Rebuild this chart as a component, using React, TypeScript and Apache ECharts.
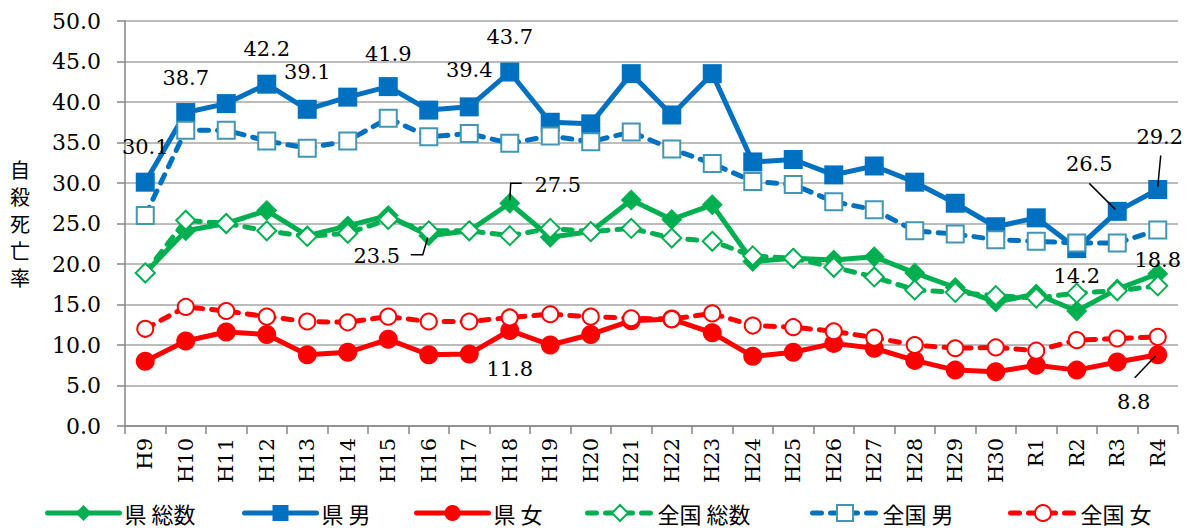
import React, { useEffect, useRef } from "react";
import * as echarts from "echarts";

const categories = [
  "H9", "H10", "H11", "H12", "H13", "H14", "H15", "H16", "H17", "H18", "H19", "H20", "H21",
  "H22", "H23", "H24", "H25", "H26", "H27", "H28", "H29", "H30", "R1", "R2", "R3", "R4",
];

// 県 総数
const kenTotal = [18.9, 24.1, 25.0, 26.6, 23.5, 24.7, 26.0, 23.5, 24.1, 27.5, 23.3, 24.0, 27.9, 25.5, 27.3, 20.3, 20.7, 20.5, 20.9, 18.9, 17.1, 15.3, 16.3, 14.2, 16.9, 18.8];
// 県 男
const kenMale = [30.1, 38.7, 39.8, 42.2, 39.1, 40.6, 41.9, 39.0, 39.4, 43.7, 37.5, 37.3, 43.5, 38.4, 43.5, 32.6, 32.9, 31.0, 32.1, 30.1, 27.5, 24.6, 25.7, 21.9, 26.5, 29.2];
// 県 女
const kenFemale = [8.0, 10.5, 11.6, 11.3, 8.8, 9.1, 10.7, 8.8, 8.9, 11.8, 10.0, 11.3, 13.0, 13.2, 11.5, 8.6, 9.1, 10.2, 9.6, 8.1, 6.9, 6.7, 7.5, 6.9, 7.9, 8.8];
// 全国 総数
const zenTotal = [18.9, 25.4, 25.0, 24.1, 23.4, 23.8, 25.5, 24.1, 24.1, 23.5, 24.4, 24.0, 24.4, 23.2, 22.8, 21.0, 20.7, 19.6, 18.4, 16.8, 16.5, 16.1, 15.8, 16.4, 16.7, 17.3];
// 全国 男
const zenMale = [26.0, 36.5, 36.5, 35.2, 34.3, 35.2, 38.0, 35.7, 36.1, 34.9, 35.8, 35.1, 36.3, 34.2, 32.4, 30.2, 29.8, 27.7, 26.7, 24.1, 23.7, 23.0, 22.8, 22.6, 22.6, 24.2];
// 全国 女
const zenFemale = [12.0, 14.7, 14.2, 13.5, 12.9, 12.8, 13.5, 12.9, 12.9, 13.4, 13.8, 13.5, 13.3, 13.2, 13.9, 12.4, 12.2, 11.7, 10.9, 10.0, 9.6, 9.7, 9.3, 10.6, 10.8, 11.0];

const seriesNames = ["県 総数", "県 男", "県 女", "全国 総数", "全国 男", "全国 女"];

const yTicks = { min: 0, max: 50, interval: 5 };

const dataByKey: Record<string, number[]> = { kenTotal, kenMale, kenFemale };

// label placement (pixel offsets from point)
const labelSpots: { key: string; i: number; dx: number; dy: number }[] = [
  { key: "kenMale", i: 0, dx: 0, dy: -35 },
  { key: "kenMale", i: 1, dx: 0, dy: -35 },
  { key: "kenMale", i: 3, dx: 0, dy: -35 },
  { key: "kenMale", i: 4, dx: 0, dy: -37 },
  { key: "kenMale", i: 6, dx: 0, dy: -33 },
  { key: "kenMale", i: 8, dx: 0, dy: -37 },
  { key: "kenMale", i: 9, dx: 0, dy: -35 },
  { key: "kenMale", i: 24, dx: -28, dy: -47 },
  { key: "kenMale", i: 25, dx: 2, dy: -52 },
  { key: "kenTotal", i: 7, dx: -52, dy: 20 },
  { key: "kenTotal", i: 9, dx: 48, dy: -18 },
  { key: "kenTotal", i: 23, dx: 0, dy: -35 },
  { key: "kenTotal", i: 25, dx: 0, dy: -14 },
  { key: "kenFemale", i: 9, dx: 0, dy: 39 },
  { key: "kenFemale", i: 25, dx: -24, dy: 47 },
];

// leader lines (pixel offsets from point)
const leaders: { key: string; i: number; pts: number[][] }[] = [
  { key: "kenMale", i: 24, pts: [[-28, -28], [-2, -2]] },
  { key: "kenMale", i: 25, pts: [[3, -34], [0, -3]] },
  { key: "kenTotal", i: 7, pts: [[-18, 19], [-6, 19], [-1, 2]] },
  { key: "kenTotal", i: 9, pts: [[0, -3], [1, -20], [12, -20]] },
  { key: "kenFemale", i: 25, pts: [[-23, 23], [-2, 1]] },
];

// legend item placement
const legendLefts = [45, 242, 414, 585, 810, 1008];
const legendIconWidths = [72, 72, 72, 65, 65, 65];

const SERIF = '"DejaVu Serif", "Noto Sans CJK JP", serif';
const CJK = '"Noto Sans CJK JP", sans-serif';
const GREEN = "#00B050";
const BLUE = "#0070C0";
const RED = "#FF0000";
const TEAL = "#4296B4";

function withLabels(key: string, arr: number[]) {
  return arr.map((v, i) => {
    const s = labelSpots.find((l) => l.key === key && l.i === i);
    if (!s) return v;
    return {
      value: v,
      label: {
        show: true,
        position: "inside",
        offset: [s.dx, s.dy],
        color: "#000",
        fontSize: 21,
        fontFamily: SERIF,
      },
    };
  });
}

export default function App() {
  const ref = useRef<HTMLDivElement>(null);

  useEffect(() => {
    document.body.style.margin = "0";
    const chart = echarts.init(ref.current!, null, { renderer: "svg" });
    const dash = [9, 9];
    const option: any = {
      animation: false,
      textStyle: { fontFamily: SERIF },
      grid: { left: 125, right: 23, top: 21, bottom: 106 },
      legend: seriesNames.map((n, k) => ({
        data: [n],
        left: legendLefts[k],
        top: 499,
        padding: 0,
        itemWidth: legendIconWidths[k],
        itemHeight: 20,
        lineStyle: { width: 5, cap: "round" },
        textStyle: { fontSize: 22, lineHeight: 28, color: "#000", fontFamily: CJK },
      })),
      xAxis: {
        type: "category",
        data: categories,
        boundaryGap: true,
        axisLine: { lineStyle: { color: "#868686", width: 1.5 } },
        axisTick: { show: true, length: 8, interval: 0, lineStyle: { color: "#868686", width: 1.5 } },
        axisLabel: { interval: 0, rotate: 90, fontSize: 21, color: "#000", margin: 12, fontFamily: SERIF },
      },
      yAxis: {
        type: "value",
        min: yTicks.min,
        max: yTicks.max,
        interval: yTicks.interval,
        name: "自\n殺\n死\n亡\n率",
        nameLocation: "middle",
        nameRotate: 0,
        nameGap: 95,
        nameTextStyle: { fontSize: 20, lineHeight: 27, color: "#000", fontFamily: CJK },
        axisLine: { show: true, lineStyle: { color: "#868686", width: 1.5 } },
        axisTick: { show: true, length: 8, lineStyle: { color: "#868686", width: 1.5 } },
        axisLabel: { fontSize: 22, color: "#000", margin: 24, fontFamily: SERIF, formatter: (v: number) => v.toFixed(1) },
        splitLine: { lineStyle: { color: "#A6A6A6", width: 1.5 } },
      },
      series: [
        {
          name: seriesNames[0], type: "line", data: withLabels("kenTotal", kenTotal),
          symbol: "diamond", symbolSize: 21,
          itemStyle: { color: GREEN },
          lineStyle: { color: GREEN, width: 5 },
        },
        {
          name: seriesNames[1], type: "line", data: withLabels("kenMale", kenMale),
          symbol: "rect", symbolSize: 19,
          itemStyle: { color: BLUE },
          lineStyle: { color: BLUE, width: 5 },
        },
        {
          name: seriesNames[2], type: "line", data: withLabels("kenFemale", kenFemale),
          symbol: "circle", symbolSize: 19,
          itemStyle: { color: RED },
          lineStyle: { color: RED, width: 5 },
        },
        {
          name: seriesNames[3], type: "line", data: zenTotal,
          symbol: "diamond", symbolSize: 19,
          itemStyle: { color: "#fff", borderColor: GREEN, borderWidth: 2 },
          lineStyle: { color: GREEN, width: 5, type: dash, cap: "round" },
        },
        {
          name: seriesNames[4], type: "line", data: zenMale,
          symbol: "rect", symbolSize: 17,
          itemStyle: { color: "#fff", borderColor: TEAL, borderWidth: 2 },
          lineStyle: { color: BLUE, width: 5, type: dash, cap: "round" },
        },
        {
          name: seriesNames[5], type: "line", data: zenFemale,
          symbol: "circle", symbolSize: 16,
          itemStyle: { color: "#fff", borderColor: RED, borderWidth: 2 },
          lineStyle: { color: RED, width: 5, type: dash, cap: "round" },
        },
        {
          name: "leaders", type: "custom", silent: true, z: 10,
          data: leaders.map((l) => [l.i, dataByKey[l.key][l.i]]),
          renderItem: (params: any, api: any) => {
            const [x, y] = api.coord([api.value(0), api.value(1)]);
            const l = leaders[params.dataIndex];
            return {
              type: "polyline",
              shape: { points: l.pts.map(([dx, dy]) => [x + dx, y + dy]) },
              style: { stroke: "#000", lineWidth: 1.5, fill: null },
            };
          },
        },
      ],
    };
    chart.setOption(option);
    return () => chart.dispose();
  }, []);

  return <div ref={ref} style={{ width: 1201, height: 532 }} />;
}
